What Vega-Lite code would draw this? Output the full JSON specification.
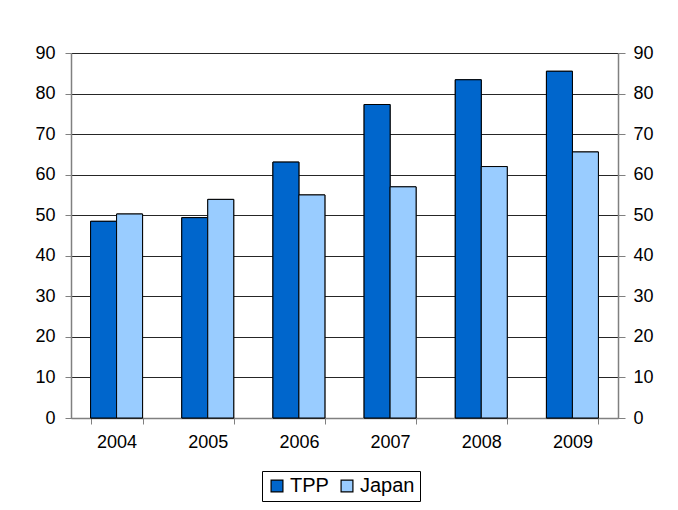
{
  "$schema": "https://vega.github.io/schema/vega-lite/v6.json",
  "width": 547,
  "height": 365,
  "autosize": {"type": "none"},
  "padding": {"left": 71, "top": 53, "right": 60, "bottom": 92},
  "background": "white",
  "config": {
    "font": "Liberation Sans",
    "view": {"stroke": null},
    "axis": {"labelFont": "Liberation Sans", "labelFontSize": 18, "labelColor": "#000", "title": null}
  },
  "data": {
    "values": [
      {"year": "2004", "series": "TPP", "value": 48.5},
      {"year": "2004", "series": "Japan", "value": 50.3},
      {"year": "2005", "series": "TPP", "value": 49.4},
      {"year": "2005", "series": "Japan", "value": 53.9},
      {"year": "2006", "series": "TPP", "value": 63.1},
      {"year": "2006", "series": "Japan", "value": 55.0},
      {"year": "2007", "series": "TPP", "value": 77.3},
      {"year": "2007", "series": "Japan", "value": 57.0},
      {"year": "2008", "series": "TPP", "value": 83.4},
      {"year": "2008", "series": "Japan", "value": 62.0},
      {"year": "2009", "series": "TPP", "value": 85.5},
      {"year": "2009", "series": "Japan", "value": 65.6}
    ]
  },
  "encoding": {
    "x": {
      "field": "year", "type": "nominal",
      "scale": {"paddingInner": 0.43, "paddingOuter": 0.215},
      "axis": {"labelAngle": 0, "tickBand": "extent", "tickSize": 6, "tickColor": "#808080", "domainColor": "#808080", "domainWidth": 1.5, "labelPadding": 9, "grid": false}
    },
    "xOffset": {"field": "series", "type": "nominal", "scale": {"domain": ["TPP", "Japan"], "paddingInner": 0}},
    "y": {
      "field": "value", "type": "quantitative",
      "scale": {"domain": [0, 90], "nice": false}
    },
    "color": {
      "field": "series", "type": "nominal",
      "scale": {"domain": ["TPP", "Japan"], "range": ["#0066CC", "#99CCFF"]},
      "legend": {
        "title": null, "orient": "none", "legendX": 191, "legendY": 418, "direction": "horizontal",
        "strokeColor": "#000", "padding": 5, "fillColor": "white",
        "symbolType": "square", "symbolSize": 140, "symbolStrokeColor": "#000", "symbolStrokeWidth": 1.2, "symbolOpacity": 1,
        "labelFont": "Liberation Sans", "labelFontSize": 20, "labelColor": "#000", "labelOffset": 3, "columnPadding": 8
      }
    }
  },
  "layer": [
    {
      "mark": {"type": "bar", "stroke": "#000", "strokeWidth": 1, "opacity": 1},
      "encoding": {
        "y": {
          "field": "value", "type": "quantitative",
          "axis": {"orient": "left", "values": [0,10,20,30,40,50,60,70,80,90], "grid": true, "gridColor": "#000", "gridWidth": 1, "gridOpacity": 0.85, "tickSize": 6, "tickColor": "#808080", "domainColor": "#808080", "domainWidth": 1.5, "labelPadding": 10}
        }
      }
    },
    {
      "mark": {"type": "bar", "stroke": "#000", "strokeWidth": 1, "opacity": 1},
      "encoding": {
        "y": {
          "field": "value", "type": "quantitative",
          "axis": {"orient": "right", "values": [0,10,20,30,40,50,60,70,80,90], "grid": false, "tickSize": 7, "tickColor": "#808080", "domainColor": "#808080", "domainWidth": 1.5, "labelPadding": 8}
        }
      }
    }
  ],
  "resolve": {"axis": {"y": "independent"}}
}
